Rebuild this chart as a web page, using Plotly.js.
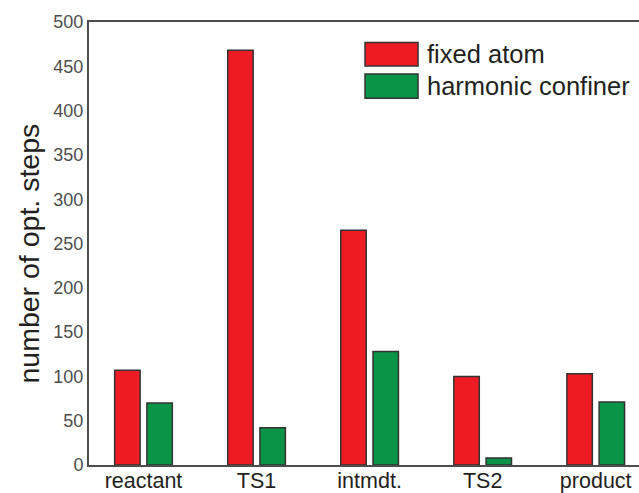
<!DOCTYPE html>
<html>
<head>
<meta charset="utf-8">
<script src="https://cdn.plot.ly/plotly-3.0.1.min.js"></script>
<style>
html,body{margin:0;padding:0;overflow:hidden;background:#fff;}
#chart{width:700px;height:493px;}
</style>
</head>
<body>
<div id="chart"></div>
<script>
const categories = ["reactant", "TS1", "intmdt.", "TS2", "product"];
const fixedAtom = [107, 468, 265, 100, 103];
const harmonicConfiner = [70, 42, 128, 8, 71];
const seriesNames = ["fixed atom", "harmonic confiner"];
const yTicks = [0, 50, 100, 150, 200, 250, 300, 350, 400, 450, 500];
const yTitle = "number of opt. steps";

const RED = "#ed1c24", GREEN = "#0a9447", EDGE = "#333333";
const FONT = "Liberation Sans, Arial, Helvetica, sans-serif";

const traces = [
  {type: "bar", name: seriesNames[0], x: categories, y: fixedAtom,
   marker: {color: RED, line: {color: EDGE, width: 1.5}}},
  {type: "bar", name: seriesNames[1], x: categories, y: harmonicConfiner,
   marker: {color: GREEN, line: {color: EDGE, width: 1.5}}}
];

const layout = {
  width: 700, height: 493,
  margin: {l: 89, r: 50, t: 22, b: 28},
  paper_bgcolor: "#fff", plot_bgcolor: "#fff",
  showlegend: false,
  barmode: "group", bargap: 0.43, bargroupgap: 0.21,
  font: {family: FONT, color: "#231f20"},
  xaxis: {
    type: "category", range: [-0.482, 4.48],
    showline: true, mirror: true, linecolor: "#4d4d4d", linewidth: 2,
    showgrid: false, zeroline: false, ticks: "",
    tickfont: {size: 21.5, color: "#231f20"}, automargin: false,
    ticklabelstandoff: -5
  },
  yaxis: {
    range: [0, 500], tickvals: yTicks, ticktext: yTicks.map(String),
    showline: true, mirror: true, linecolor: "#4d4d4d", linewidth: 2,
    showgrid: false, zeroline: false, ticks: "",
    tickfont: {size: 18, color: "#4d4d4d"}, automargin: false
  },
  shapes: [
    {type: "rect", xref: "paper", yref: "paper", x0: 0.492, x1: 0.5865, y0: 0.9007, y1: 0.954,
     fillcolor: RED, line: {color: EDGE, width: 1.5}},
    {type: "rect", xref: "paper", yref: "paper", x0: 0.492, x1: 0.5865, y0: 0.8278, y1: 0.8826,
     fillcolor: GREEN, line: {color: EDGE, width: 1.5}}
  ],
  annotations: [
    {xref: "paper", yref: "paper", x: 0.599, y: 0.9278, xanchor: "left", yanchor: "middle",
     text: seriesNames[0], showarrow: false, font: {size: 25.5, color: "#231f20"}},
    {xref: "paper", yref: "paper", x: 0.599, y: 0.8552, xanchor: "left", yanchor: "middle",
     text: seriesNames[1], showarrow: false, font: {size: 25.5, color: "#231f20"}},
    {xref: "paper", yref: "paper", x: -0.1087, y: 0.4774, xanchor: "center", yanchor: "middle",
     textangle: -90, text: yTitle, showarrow: false, font: {size: 28.5, color: "#231f20"}}
  ]
};

Plotly.newPlot("chart", traces, layout, {displayModeBar: false, staticPlot: true});
</script>
</body>
</html>
